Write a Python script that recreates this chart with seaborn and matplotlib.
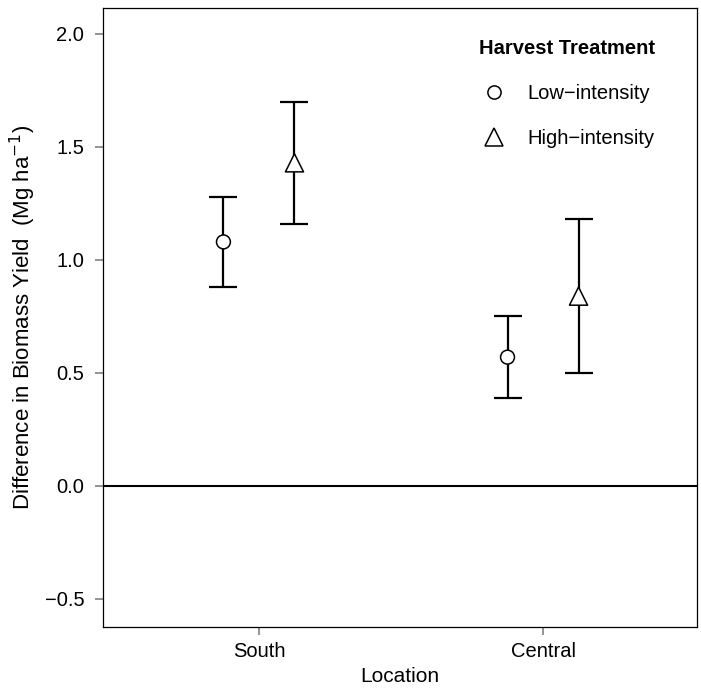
import numpy as np
import pandas as pd
import matplotlib
matplotlib.use("Agg")
import matplotlib.pyplot as plt
from matplotlib.lines import Line2D
import seaborn as sns

locations = ["South", "Central"]
treatments = ["Low\u2212intensity", "High\u2212intensity"]
low_mean = [1.08, 0.57]
low_lo = [0.88, 0.39]
low_hi = [1.28, 0.75]
high_mean = [1.43, 0.84]
high_lo = [1.16, 0.50]
high_hi = [1.70, 1.18]

rows = []
for i, loc in enumerate(locations):
    rows.append(dict(Location=loc, Treatment=treatments[0], mean=low_mean[i], lo=low_lo[i], hi=low_hi[i], pos=i + 1 - 0.125))
    rows.append(dict(Location=loc, Treatment=treatments[1], mean=high_mean[i], lo=high_lo[i], hi=high_hi[i], pos=i + 1 + 0.125))
df = pd.DataFrame(rows)

sns.set_theme(style="white")
plt.rcParams['font.family'] = ['Liberation Sans', 'DejaVu Sans']
plt.rcParams['text.color'] = 'black'
FS = 14.5

fig = plt.figure(figsize=(7.01, 6.89), dpi=100)
ax = fig.add_axes([103/701, 1-627/689, (697-103)/701, (627-8)/689])

ax.axhline(0, color="black", lw=1.5, zorder=1)
ax.errorbar(df["pos"], df["mean"], yerr=[df["mean"] - df["lo"], df["hi"] - df["mean"]],
            fmt="none", ecolor="black", elinewidth=1.6, capsize=10, capthick=1.6, zorder=2)

marker_map = {treatments[0]: "o", treatments[1]: "^"}
size_map = {treatments[0]: 100, treatments[1]: 170}
sns.scatterplot(data=df, x="pos", y="mean", style="Treatment", markers=marker_map,
                size="Treatment", sizes=size_map,
                facecolor="white", edgecolor="black", linewidth=1.1, ax=ax, zorder=3, legend=False)

ax.set_xlim(0.451, 2.542)
ax.set_ylim(-0.624, 2.115)
ax.set_xticks([1, 2])
ax.set_xticklabels(locations)
ax.set_yticks([-0.5, 0.0, 0.5, 1.0, 1.5, 2.0])
ax.set_yticklabels(["\u22120.5", "0.0", "0.5", "1.0", "1.5", "2.0"])
ax.tick_params(axis="both", which="major", bottom=True, left=True, direction="out", length=6, width=1.2,
               color="#808080", labelsize=FS, labelcolor="black")
ax.tick_params(axis="x", pad=5)
ax.tick_params(axis="y", pad=7.5)
for sp in ax.spines.values():
    sp.set_color("black")
    sp.set_linewidth(0.9)
ax.set_xlabel("Location", fontsize=15, labelpad=4, color="black")
ax.set_ylabel("Difference in Biomass Yield  (Mg ha$^{-1}$)", fontsize=16, labelpad=5, color="black")

handles = [Line2D([], [], linestyle="none", marker=marker_map[t], markersize=np.sqrt(size_map[t]) * 0.95,
                  markerfacecolor="white", markeredgecolor="black", markeredgewidth=1.1) for t in treatments]
leg = ax.legend(handles, treatments, title="Harvest Treatment", loc="upper right", bbox_to_anchor=(0.96, 0.98),
                frameon=False, fontsize=FS, title_fontsize=FS, labelspacing=1.3, handletextpad=0.9,
                handlelength=1.5, alignment="center")
leg.get_title().set_fontweight("bold")
leg.get_title().set_color("black")
for t in leg.get_texts():
    t.set_color("black")

fig.savefig("out.png", dpi=100)
